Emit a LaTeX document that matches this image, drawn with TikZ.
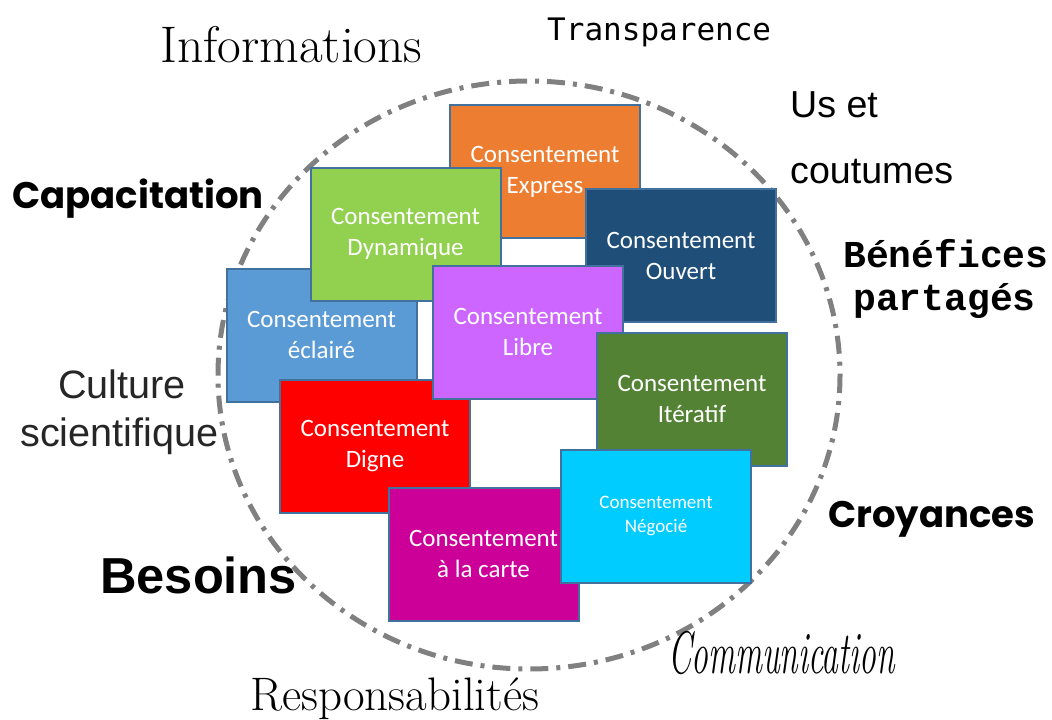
\documentclass[tikz,border=0pt]{standalone}
\usepackage{fontspec}
\newfontfamily\carl{Carlito}
\newfontfamily\arialf{Liberation Sans}
\newfontfamily\courf{Liberation Mono}
\newfontfamily\dvmono{DejaVu Sans Mono}
\newfontfamily\popf{Poppins}
\definecolor{cExpress}{HTML}{ED7D31}
\definecolor{cDyn}{HTML}{92D050}
\definecolor{cOuvert}{HTML}{1F4E79}
\definecolor{cEcl}{HTML}{5B9BD5}
\definecolor{cLibre}{HTML}{CC66FF}
\definecolor{cIter}{HTML}{548235}
\definecolor{cDigne}{HTML}{FF0000}
\definecolor{cCarte}{HTML}{CC0099}
\definecolor{cNego}{HTML}{00CCFF}
\definecolor{cBorder}{HTML}{41719C}
\definecolor{cRing}{HTML}{808080}
\tikzset{
  cbox/.style={draw=cBorder, line width=2pt, minimum width=190pt, minimum height=133pt,
    inner sep=0pt, align=center, text=white, font=\carl\fontsize{25}{31}\selectfont},
  lbl/.style={anchor=base west, inner sep=0pt},
  ring/.style={draw=cRing, line width=5pt, dash pattern=on 18pt off 8pt on 4pt off 8pt}
}
\begin{document}
\begin{tikzpicture}[x=1pt,y=-1pt]
\useasboundingbox (0,0) rectangle (1052,720);
% ring
\draw[ring] (529,375) ellipse [x radius=311, y radius=294];
% boxes (back to front)
\node[cbox, fill=cEcl] (eclaire) at (321.5,335) {Consentement\\éclairé};
\node[cbox, fill=cExpress] (express) at (545,171.5) {Consentement\\Express};
\node[cbox, fill=cDyn] (dyn) at (405.5,234) {Consentement\\Dynamique};
\node[cbox, fill=cOuvert] (ouvert) at (681,255.5) {Consentement\\Ouvert};
\node[cbox, fill=cDigne] (digne) at (375,446) {Consentement\\Digne};
\node[cbox, fill=cLibre] (libre) at (528,332) {Consentement\\Libre};
\node[cbox, fill=cIter] (iter) at (692,399) {Consentement\\Itératif};
\node[cbox, fill=cCarte] (carte) at (483.5,554) {Consentement\\à la carte};
\node[cbox, fill=cNego, font=\carl\fontsize{19}{24}\selectfont] (nego) at (656,516) {Consentement\\Négocié};
% outer labels
\node[lbl, font=\fontsize{51.5}{52}\selectfont] (info) at (160,62) {Informations};
\node[lbl, font=\dvmono\fontsize{31}{31}\selectfont] (transp) at (547,40) {Transparence};
\node[lbl, font=\arialf\fontsize{37.6}{38}\selectfont] (uset) at (790,117) {Us et};
\node[lbl, font=\arialf\fontsize{37.6}{38}\selectfont] (cout) at (790,183) {coutumes};
\node[lbl, font=\courf\bfseries\fontsize{38}{38}\selectfont] (bene) at (843,267) {Bénéfices};
\node[lbl, font=\courf\bfseries\fontsize{38}{38}\selectfont] (part) at (853,310) {partagés};
\node[lbl, font=\popf\bfseries\fontsize{37}{37}\selectfont] (capa) at (12,208) {Capacitation};
\node[lbl, font=\popf\bfseries\fontsize{37}{37}\selectfont] (croy) at (828,527) {Croyances};
\node[lbl, font=\arialf\fontsize{39.6}{40}\selectfont, text=black!85] (cult) at (58,398) {Culture};
\node[lbl, font=\arialf\fontsize{39.6}{40}\selectfont, text=black!85] (scien) at (20,446) {scientifique};
\node[lbl, font=\arialf\bfseries\fontsize{50.6}{51}\selectfont] (beso) at (100,593) {Besoins};
\node[lbl, font=\itshape\fontsize{60}{60}\selectfont] (comm) at (668,673) {\scalebox{0.56}[1]{Communication}};
\node[lbl, font=\fontsize{47}{47}\selectfont] (resp) at (250,710) {Responsabilités};
\end{tikzpicture}
\end{document}
